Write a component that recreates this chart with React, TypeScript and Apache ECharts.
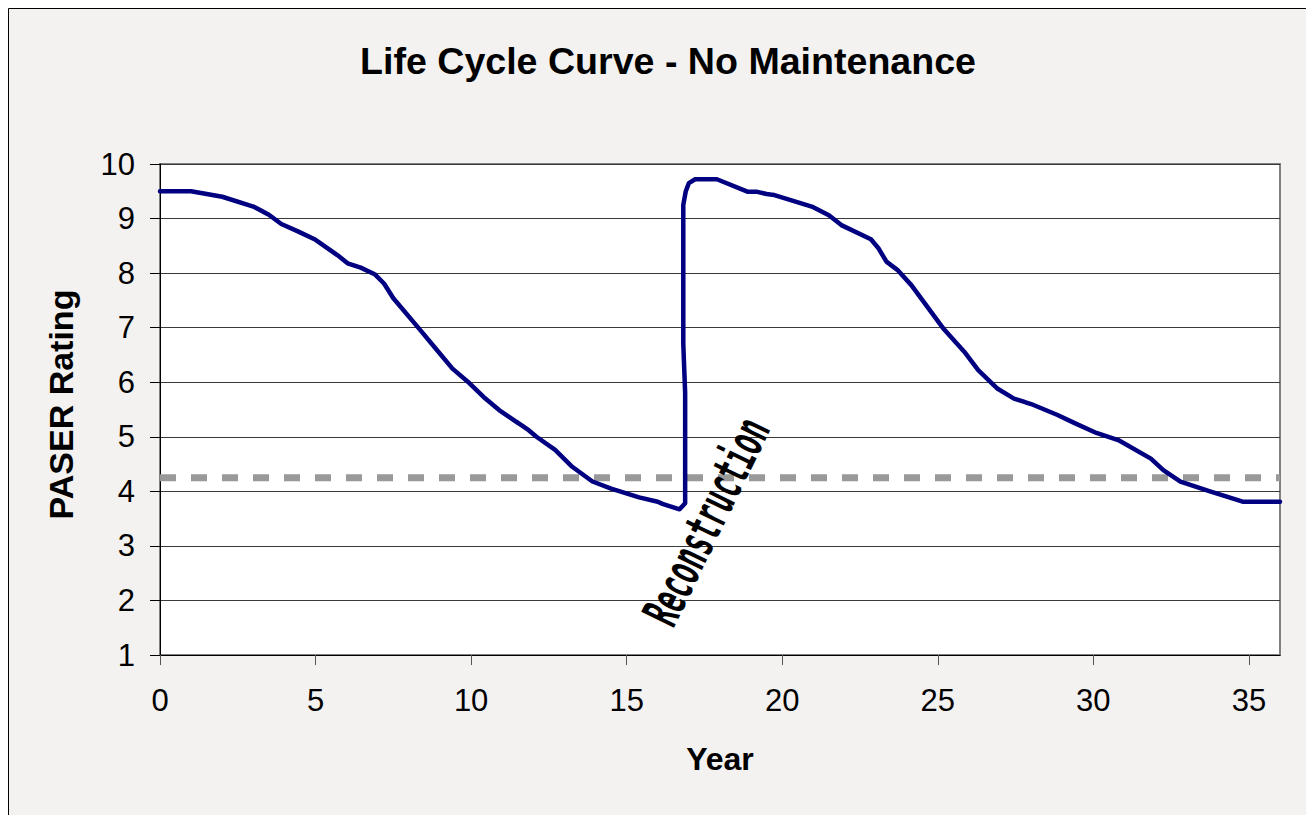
import React, { useEffect, useRef } from "react";
import * as echarts from "echarts";

const chartTitle = "Life Cycle Curve - No Maintenance";
const xAxisTitle = "Year";
const yAxisTitle = "PASER Rating";
const annotationText = "Reconstruction";

const years = [
  0, 1, 2, 3, 3.5, 3.9, 4.45, 5, 5.7, 6.03, 6.45, 6.9, 7.2, 7.5, 8.3, 8.9, 9.4, 9.95,
  10.4, 10.9, 11.85, 12.1, 12.7, 13.25, 13.9, 14.5, 15.4, 16.0, 16.15, 16.7, 16.88,
  16.88, 16.82, 16.82, 16.9, 17.0, 17.2, 17.9, 18.9, 19.2, 19.5, 19.75, 20.95, 21.5,
  21.9, 22.85, 23.1, 23.35, 23.7, 24.15, 24.5, 25.2, 25.85, 26.3, 26.9, 27.45, 28.0,
  28.85, 29.4, 30.1, 30.8, 31.85, 32.25, 32.8, 33.75, 34.8, 36,
];
const ratings = [
  9.5, 9.5, 9.4, 9.22, 9.07, 8.9, 8.76, 8.61, 8.33, 8.18, 8.1, 7.98, 7.81, 7.54, 7.0, 6.59, 6.25, 5.98,
  5.73, 5.49, 5.12, 5.0, 4.76, 4.45, 4.18, 4.05, 3.89, 3.81, 3.77, 3.67, 3.78,
  5.8, 6.7, 9.25, 9.5, 9.65, 9.72, 9.72, 9.49, 9.49, 9.45, 9.43, 9.22, 9.06,
  8.88, 8.62, 8.45, 8.21, 8.06, 7.78, 7.51, 6.97, 6.56, 6.22, 5.89, 5.7, 5.6,
  5.4, 5.25, 5.07, 4.94, 4.6, 4.39, 4.18, 4.0, 3.81, 3.81,
];
const thresholdYears = [0, 36];
const thresholdValue = 4.25;
const annotationPos = [17.56, 3.45];

const xMin = 0, xMax = 36, xStep = 5;
const yMin = 1, yMax = 10, yStep = 1;

export default function App() {
  const ref = useRef<HTMLDivElement>(null);
  useEffect(() => {
    if (!ref.current) return;
    const chart = echarts.init(ref.current, undefined, { renderer: "svg" });
    const font = "'Liberation Sans', Arial, sans-serif";
    chart.setOption({
      animation: false,
      backgroundColor: "#f3f2f1",
      title: {
        text: chartTitle,
        left: 347,
        top: 29,
        textStyle: { fontFamily: font, fontSize: 37.6, fontWeight: "bold", color: "#000" },
      },
      grid: {
        left: 152,
        top: 156,
        width: 1120,
        height: 491,
        show: true,
        backgroundColor: "#fff",
        borderColor: "#808080",
        borderWidth: 2,
      },
      xAxis: {
        type: "value",
        min: xMin,
        max: xMax,
        interval: xStep,
        name: xAxisTitle,
        nameLocation: "middle",
        nameGap: 88,
        nameTextStyle: { fontFamily: font, fontSize: 32, fontWeight: "bold", color: "#000" },
        axisLine: { show: true, lineStyle: { color: "#000", width: 1 } },
        axisTick: { show: true, length: 10, inside: false, lineStyle: { color: "#555" } },
        axisLabel: { fontFamily: font, fontSize: 31, color: "#000", margin: 30 },
        splitLine: { show: false },
      },
      yAxis: {
        type: "value",
        min: yMin,
        max: yMax,
        interval: yStep,
        name: yAxisTitle,
        nameLocation: "middle",
        nameGap: 82,
        nameTextStyle: {
          fontFamily: font,
          fontSize: 34,
          fontWeight: "bold",
          color: "#000",
          padding: [0, 0, 0, 10],
        },
        axisLine: { show: true, lineStyle: { color: "#000", width: 1 } },
        axisTick: { show: true, length: 10, inside: false, lineStyle: { color: "#000" } },
        axisLabel: { fontFamily: font, fontSize: 31, color: "#000", margin: 25 },
        splitLine: { show: true, lineStyle: { color: "#3a3a3a", width: 1 } },
      },
      series: [
        {
          type: "line",
          name: "Threshold",
          data: thresholdYears.map((x) => [x, thresholdValue]),
          symbol: "none",
          lineStyle: { color: "#999999", width: 7, type: [16, 15] },
          z: 2,
        },
        {
          type: "line",
          name: "PASER",
          data: years.map((x, i) => [x, ratings[i]]),
          symbol: "none",
          smooth: false,
          lineStyle: { color: "#000080", width: 4.5, join: "round", cap: "round" },
          z: 3,
        },
      ],
    });
    const pt = chart.convertToPixel({ gridIndex: 0 }, annotationPos) as number[];
    chart.setOption({
      graphic: [
        {
          type: "rect",
          shape: { x: 0.5, y: 0.5, width: 1400, height: 900 },
          style: { fill: "none", stroke: "#000", lineWidth: 1 },
          silent: true,
          z: 100,
        },
        {
          type: "text",
          x: pt[0],
          y: pt[1],
          rotation: (64 * Math.PI) / 180,
          scaleX: 0.53,
          z: 100,
          style: {
            text: annotationText,
            fontFamily: "'DejaVu Sans Mono', monospace",
            fontWeight: "bold",
            fontSize: 50,
            fill: "#000",
            align: "center",
            verticalAlign: "middle",
          },
        },
      ],
    });
    return () => chart.dispose();
  }, []);
  return (
    <div
      ref={ref}
      style={{ position: "fixed", left: 8, top: 8, width: 1298, height: 807 }}
    />
  );
}
